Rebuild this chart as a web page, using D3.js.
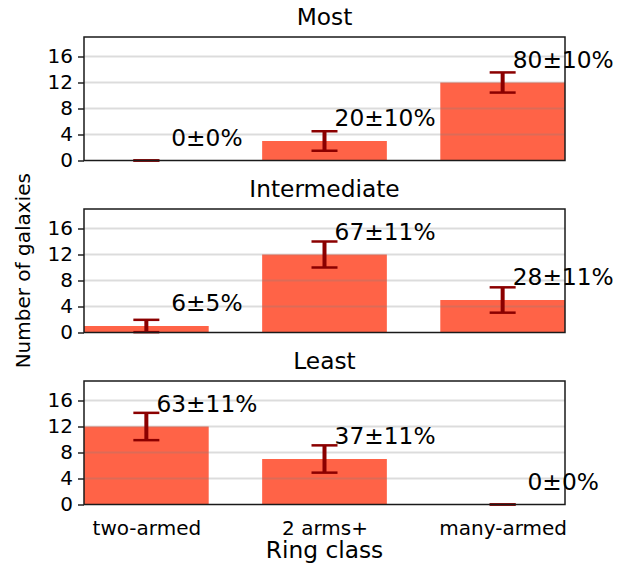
<!DOCTYPE html>
<html>
<head>
<meta charset="utf-8">
<script src="https://cdn.jsdelivr.net/npm/d3@7"></script>
<style>
  html, body { margin: 0; padding: 0; background: #fff; }
  svg { display: block; font-family: "DejaVu Sans", sans-serif; }
</style>
</head>
<body>
<svg id="chart" width="630" height="568"></svg>
<script>
// Ring classes along the x axis
const categories = ["two-armed", "2 arms+", "many-armed"];

// One panel per group
const panelTitles = ["Most", "Intermediate", "Least"];

// Galaxy counts per ring class, one array per panel
const mostCounts = [0, 3, 12];
const intermediateCounts = [1, 12, 5];
const leastCounts = [12, 7, 0];

// Uncertainty on each count
const mostErrors = [0, 1.5, 1.55];
const intermediateErrors = [0.95, 2.0, 1.95];
const leastErrors = [2.1, 2.1, 0];

// Fraction annotations above each bar
const mostLabels = ["0±0%", "20±10%", "80±10%"];
const intermediateLabels = ["6±5%", "67±11%", "28±11%"];
const leastLabels = ["63±11%", "37±11%", "0±0%"];

// Y-axis ticks
const yTicks = [0, 4, 8, 12, 16];

const panels = [
  { title: panelTitles[0], counts: mostCounts, errors: mostErrors, labels: mostLabels },
  { title: panelTitles[1], counts: intermediateCounts, errors: intermediateErrors, labels: intermediateLabels },
  { title: panelTitles[2], counts: leastCounts, errors: leastErrors, labels: leastLabels }
];

const svg = d3.select("#chart");
const left = 84, right = 565;
const panelTops = [37, 209, 381];
const panelH = 123.5;

const barWidth = 0.7;
const x = d3.scaleLinear()
  .domain([-barWidth / 2, categories.length - 1 + barWidth / 2])
  .range([left, right]);

const BAR = "#ff6347", ERR = "#8b0000";

panels.forEach((p, pi) => {
  const top = panelTops[pi];
  const y = d3.scaleLinear().domain([0, 19]).range([top + panelH, top]);
  const g = svg.append("g");

  // bars
  g.selectAll("rect.bar").data(p.counts).enter().append("rect")
    .attr("x", (d, i) => x(i - barWidth / 2))
    .attr("width", (d, i) => x(i + barWidth / 2) - x(i - barWidth / 2))
    .attr("y", d => y(d))
    .attr("height", d => y(0) - y(d))
    .attr("fill", BAR);

  // horizontal grid, drawn over the bars
  g.selectAll("line.grid").data(yTicks.slice(1)).enter().append("line")
    .attr("x1", left).attr("x2", right)
    .attr("y1", d => y(d)).attr("y2", d => y(d))
    .attr("stroke", "#808080").attr("stroke-opacity", 0.28)
    .attr("stroke-width", 2);

  // error bars
  const eb = g.selectAll("g.err").data(p.counts).enter().append("g");
  const capHalf = 13;
  eb.append("line")
    .attr("x1", (d, i) => x(i)).attr("x2", (d, i) => x(i))
    .attr("y1", (d, i) => y(d - p.errors[i]))
    .attr("y2", (d, i) => y(d + p.errors[i]))
    .attr("stroke", ERR).attr("stroke-width", 4);
  [-1, 1].forEach(s => {
    eb.append("line")
      .attr("x1", (d, i) => x(i) - capHalf).attr("x2", (d, i) => x(i) + capHalf)
      .attr("y1", (d, i) => y(d + s * p.errors[i]))
      .attr("y2", (d, i) => y(d + s * p.errors[i]))
      .attr("stroke", ERR).attr("stroke-width", 2.5);
  });

  // y axis
  const yAxis = d3.axisLeft(y).tickValues(yTicks).tickSize(6).tickPadding(5);
  const ya = g.append("g").attr("transform", `translate(${left},0)`).call(yAxis);
  ya.select(".domain").remove();
  ya.selectAll(".tick line").attr("stroke", "#000").attr("stroke-width", 1.3);
  ya.selectAll(".tick text").attr("font-size", 20).attr("fill", "#000")
    .attr("font-family", "DejaVu Sans");

  // frame
  g.append("rect")
    .attr("x", left).attr("y", top)
    .attr("width", right - left).attr("height", panelH)
    .attr("fill", "none").attr("stroke", "#1a1a1a").attr("stroke-width", 1.5);

  // annotations
  g.selectAll("text.ann").data(p.labels).enter().append("text")
    .attr("x", (d, i) => x(i + 0.34))
    .attr("y", (d, i) => y(p.counts[i] + 2.3))
    .attr("text-anchor", "middle")
    .attr("font-size", 23.3).attr("fill", "#000")
    .text(d => d);

  // panel title
  g.append("text")
    .attr("x", (left + right) / 2).attr("y", top - 12)
    .attr("text-anchor", "middle").attr("font-size", 23.3).attr("fill", "#000")
    .text(p.title);

  // category labels under the last panel
  if (pi === panels.length - 1) {
    const xAxis = d3.axisBottom(x).tickValues(d3.range(categories.length))
      .tickFormat(i => categories[i]).tickSize(0).tickPadding(16);
    const xa = g.append("g").attr("transform", `translate(0,${top + panelH})`).call(xAxis);
    xa.select(".domain").remove();
    xa.selectAll(".tick text").attr("font-size", 20).attr("fill", "#000")
      .attr("font-family", "DejaVu Sans");
  }
});

// axis titles
svg.append("text")
  .attr("x", (left + right) / 2).attr("y", 558)
  .attr("text-anchor", "middle").attr("font-size", 23.3).attr("fill", "#000")
  .text("Ring class");

svg.append("text")
  .attr("transform", `translate(30,${(panelTops[0] + panelTops[2] + panelH) / 2}) rotate(-90)`)
  .attr("text-anchor", "middle").attr("font-size", 20).attr("fill", "#000")
  .text("Number of galaxies");
</script>
</body>
</html>
